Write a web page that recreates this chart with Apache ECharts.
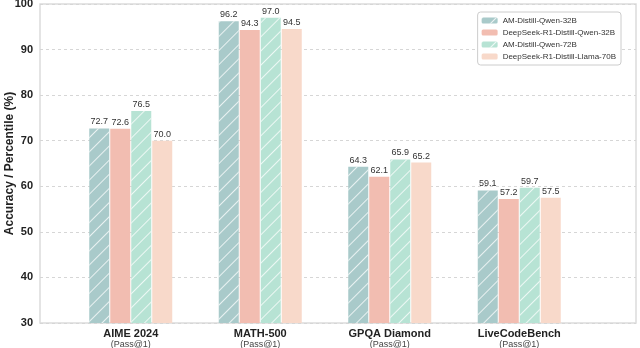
<!DOCTYPE html>
<html>
<head>
<meta charset="utf-8">
<script src="https://cdn.jsdelivr.net/npm/echarts@6/dist/echarts.min.js"></script>
<style>
  html, body { margin: 0; padding: 0; background: #fff; }
  #main { width: 640px; height: 348px; }
</style>
</head>
<body>
<div id="main"></div>
<script>
var benchmarks = ['AIME 2024', 'MATH-500', 'GPQA Diamond', 'LiveCodeBench'];
var amQwen32 = [72.7, 96.2, 64.3, 59.1];
var dsQwen32 = [72.6, 94.3, 62.1, 57.2];
var amQwen72 = [76.5, 97.0, 65.9, 59.7];
var dsLlama70 = [70.0, 94.5, 65.2, 57.5];
var yTicks = [30, 40, 50, 60, 70, 80, 90, 100];

var font = 'Liberation Sans, Arial, sans-serif';
var myChart = echarts.init(document.getElementById('main'));

// hatch overlay for the AM-Distill bars
var hatch = {
  symbol: 'rect',
  symbolSize: 1,
  dashArrayX: [[1, 0]],
  dashArrayY: [1, 9],
  rotation: -Math.PI / 4,
  color: 'rgba(255,255,255,0.75)'
};

function barSeries(name, data, color, decal) {
  var s = {
    name: name,
    type: 'bar',
    xAxisIndex: 1,
    yAxisIndex: 1,
    data: data,
    barWidth: 20,
    barGap: '5%',
    itemStyle: { color: color },
    label: {
      show: true,
      position: 'top',
      distance: 2,
      fontFamily: font,
      fontSize: 9,
      color: '#333',
      formatter: function (p) { return p.value.toFixed(1); }
    }
  };
  if (decal) s.itemStyle.decal = decal;
  return s;
}

var option = {
  animation: false,
  textStyle: { fontFamily: font },
  legend: {
    orient: 'vertical',
    right: 19,
    top: 12,
    padding: [4, 5, 4, 4],
    itemWidth: 16,
    itemHeight: 6,
    itemGap: 3,
    backgroundColor: '#fff',
    borderColor: '#ccc',
    borderWidth: 1,
    borderRadius: 3,
    textStyle: { fontSize: 8, color: '#333', fontFamily: font, lineHeight: 9 },
    data: ['AM-Distill-Qwen-32B', 'DeepSeek-R1-Distill-Qwen-32B', 'AM-Distill-Qwen-72B', 'DeepSeek-R1-Distill-Llama-70B']
  },
  grid: [
    { left: 40, right: 4, top: 4, bottom: 25, outerBoundsMode: 'none', containLabel: false,
      show: true, borderColor: '#dcdcdc', borderWidth: 1.5 },
    { left: 66, right: 56, top: 4, bottom: 25, outerBoundsMode: 'none', containLabel: false }
  ],
  xAxis: [
    { gridIndex: 0, type: 'value', min: 0, max: 1, show: false },
    {
      gridIndex: 1,
      type: 'category',
      data: benchmarks,
      axisLine: { show: false },
      axisTick: { show: false },
      axisLabel: {
        interval: 0,
        margin: 5,
        formatter: function (v) { return '{b|' + v + '}\n{s|(Pass@1)}'; },
        rich: {
          b: { fontFamily: font, fontSize: 11, fontWeight: 'bold', color: '#222', lineHeight: 12 },
          s: { fontFamily: font, fontSize: 9, color: '#444', lineHeight: 10 }
        }
      }
    }
  ],
  yAxis: [
    {
      gridIndex: 0,
      type: 'value',
      min: 30,
      max: 100,
      interval: 10,
      name: 'Accuracy / Percentile (%)',
      nameLocation: 'middle',
      nameGap: 24,
      nameMoveOverlap: false,
      nameTextStyle: { fontFamily: font, fontSize: 12, fontWeight: 'bold', color: '#222' },
      axisLine: { show: false },
      axisTick: { show: false },
      axisLabel: {
        margin: 7,
        fontFamily: font,
        fontSize: 11,
        fontWeight: 'bold',
        color: '#222',
        formatter: function (v) { return yTicks.indexOf(v) >= 0 ? String(v) : ''; }
      },
      splitLine: { show: true, lineStyle: { type: [3, 3], color: '#d6d6d6', width: 1 } }
    },
    { gridIndex: 1, type: 'value', min: 30, max: 100, show: false, splitLine: { show: false } }
  ],
  series: [
    barSeries('AM-Distill-Qwen-32B', amQwen32, '#a9caca', hatch),
    barSeries('DeepSeek-R1-Distill-Qwen-32B', dsQwen32, '#f2bdb1'),
    barSeries('AM-Distill-Qwen-72B', amQwen72, '#b7e3d4', hatch),
    barSeries('DeepSeek-R1-Distill-Llama-70B', dsLlama70, '#f8d9ca')
  ]
};

myChart.setOption(option);
</script>
</body>
</html>
